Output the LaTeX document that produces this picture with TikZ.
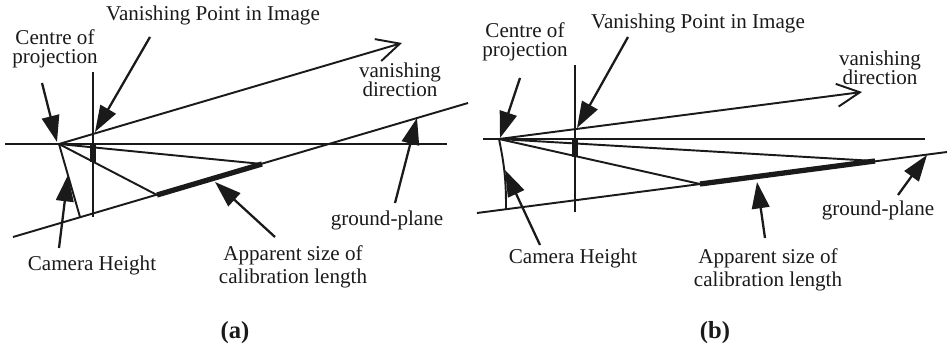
\documentclass[tikz,border=0pt]{standalone}
\usepackage{fontspec}
\setmainfont{Liberation Serif}
\usetikzlibrary{arrows.meta}
\definecolor{inkblack}{HTML}{1A1A1A}

\begin{document}
\begin{tikzpicture}[x=0.02cm, y=-0.02cm, line width=1.1pt, draw=inkblack,
    font=\fontsize{12}{11}\selectfont,
    lbl/.style={text=inkblack, align=center, inner sep=0pt},
    callout/.style={-{Triangle[length=15pt, width=10pt]}, line width=1.3pt},
    vdir/.style={-{Straight Barb[length=13pt, width=13pt, line width=1.1pt]}},
    calib/.style={line width=3pt}]
    \useasboundingbox (0,0) rectangle (947,355);

    % (a)
    \coordinate (ca) at (59,144);
    \coordinate (ha1) at (5,144);   \coordinate (ha2) at (447,144);
    \coordinate (va1) at (93,72);   \coordinate (va2) at (93,217);
    \coordinate (vda) at (402,43);
    \coordinate (ga1) at (13,237);  \coordinate (ga2) at (468,103);
    \coordinate (fa) at (80,217);
    \coordinate (ka1) at (157,195); \coordinate (ka2) at (262,164);
    \coordinate (pa1) at (93,145);  \coordinate (pa2) at (93,162);
    \draw (ha1) -- (ha2);
    \draw (va1) -- (va2);
    \draw (ga1) -- (ga2);
    \draw[vdir] (ca) -- (vda);
    \draw (ca) -- (fa);
    \draw (ca) -- (ka1);
    \draw (ca) -- (ka2);
    \draw[calib] (ka1) -- (ka2);
    \draw[calib] (pa1) -- (pa2);

    \node[lbl] (vpa) at (213,15) {Vanishing Point in Image};
    \node[lbl] (copa) at (55,49) {Centre of\\projection};
    \node[lbl] (vdla) at (400,80) {vanishing\\direction};
    \node[lbl] (gpa) at (387,220) {ground-plane};
    \node[lbl] (cha) at (92,265) {Camera Height};
    \node[lbl] (asa) at (293,267) {Apparent size of\\[2pt]calibration length};
    \node[lbl, font=\fontsize{14}{14}\selectfont\bfseries] (capa) at (235,333) {(a)};

    \coordinate (ta1) at (42,83);   \coordinate (ea1) at (57,142);
    \coordinate (ta2) at (150,37);  \coordinate (ea2) at (95,132);
    \coordinate (ta3) at (59,248);  \coordinate (ea3) at (68,175);
    \coordinate (ta4) at (275,237); \coordinate (ea4) at (215,182);
    \coordinate (ta5) at (395,203); \coordinate (ea5) at (417,118);
    \draw[callout] (ta1) -- (ea1);
    \draw[callout] (ta2) -- (ea2);
    \draw[callout] (ta3) -- (ea3);
    \draw[callout] (ta4) -- (ea4);
    \draw[callout] (ta5) -- (ea5);

    % (b)
    \coordinate (cb) at (499,139);
    \coordinate (hb1) at (483,139); \coordinate (hb2) at (925,139);
    \coordinate (vb1) at (575,65);  \coordinate (vb2) at (575,212);
    \coordinate (vdb) at (862,92);
    \coordinate (gb1) at (477,213); \coordinate (gb2) at (947,152);
    \coordinate (fb) at (506,209);
    \coordinate (kb1) at (700,184); \coordinate (kb2) at (875,161);
    \coordinate (pb1) at (575,140); \coordinate (pb2) at (575,157);
    \draw (hb1) -- (hb2);
    \draw (vb1) -- (vb2);
    \draw (gb1) -- (gb2);
    \draw[vdir] (cb) -- (vdb);
    \draw (cb) to[bend left=6] (fb);
    \draw (cb) -- (kb1);
    \draw (cb) -- (kb2);
    \draw[calib] (kb1) -- (kb2);
    \draw[calib] (pb1) -- (pb2);

    \node[lbl] (vpb) at (698,23) {Vanishing Point in Image};
    \node[lbl] (copb) at (525,42) {Centre of\\projection};
    \node[lbl] (vdlb) at (880,68) {vanishing\\direction};
    \node[lbl] (gpb) at (878,210) {ground-plane};
    \node[lbl] (chb) at (573,258) {Camera Height};
    \node[lbl] (asb) at (768,270) {Apparent size of\\[2pt]calibration length};
    \node[lbl, font=\fontsize{14}{14}\selectfont\bfseries] (capb) at (715,333) {(b)};

    \coordinate (tb1) at (520,78);  \coordinate (eb1) at (500,138);
    \coordinate (tb2) at (628,37);  \coordinate (eb2) at (577,128);
    \coordinate (tb3) at (540,245); \coordinate (eb3) at (505,170);
    \coordinate (tb4) at (765,238); \coordinate (eb4) at (757,182);
    \coordinate (tb5) at (898,195); \coordinate (eb5) at (927,155);
    \draw[callout] (tb1) -- (eb1);
    \draw[callout] (tb2) -- (eb2);
    \draw[callout] (tb3) -- (eb3);
    \draw[callout] (tb4) -- (eb4);
    \draw[callout] (tb5) -- (eb5);
\end{tikzpicture}
\end{document}
